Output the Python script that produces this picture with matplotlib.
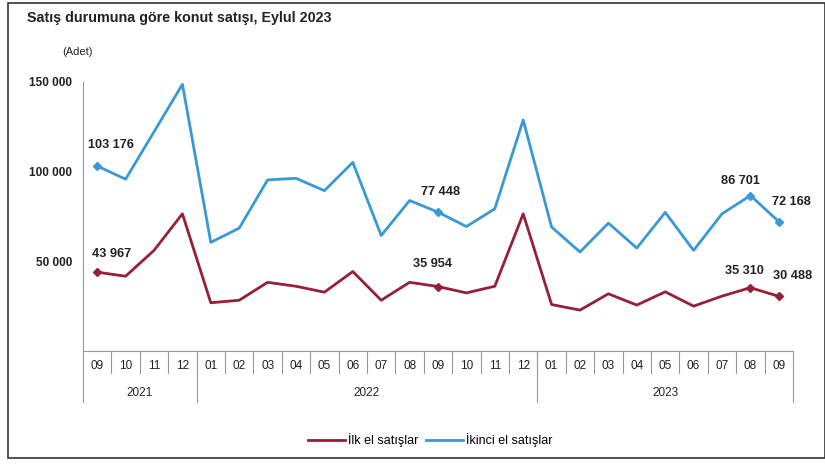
import matplotlib
matplotlib.use('Agg')
import matplotlib.pyplot as plt
from matplotlib.patches import Rectangle

plt.rcParams['font.family'] = ['Liberation Sans', 'DejaVu Sans']

# Veriler (adet)
aylar = ['09', '10', '11', '12',
         '01', '02', '03', '04', '05', '06', '07', '08', '09', '10', '11', '12',
         '01', '02', '03', '04', '05', '06', '07', '08', '09']
yillar = ['2021'] * 4 + ['2022'] * 12 + ['2023'] * 9
ilk_el = [43967, 41700, 56100, 76500,
          26900, 28300, 38300, 36100, 32800, 44300, 28300, 38300, 35954, 32400, 36100, 76500,
          25900, 22800, 31900, 25600, 33000, 25000, 30600, 35310, 30488]
ikinci_el = [103176, 95800, 122200, 148700,
             60600, 68500, 95400, 96300, 89400, 105200, 64400, 83900, 77448, 69400, 79300, 128800,
             69100, 55200, 71300, 57400, 77300, 56100, 76500, 86701, 72168]
etiketli = [0, 12, 23, 24]  # degeri yazilan aylar

kirmizi = '#96203a'
mavi = '#3a98d6'

fig = plt.figure(figsize=(8.25, 4.68), dpi=100)
ax = fig.add_axes([83 / 825, 1 - 351 / 468, 710 / 825, 269 / 468])

x = list(range(len(aylar)))
ax.plot(x, ilk_el, color=kirmizi, lw=2, label='İlk el satışlar', clip_on=False)
ax.plot(x, ikinci_el, color=mavi, lw=2, label='İkinci el satışlar', clip_on=False)

# isaretler ve deger etiketleri
def fmt(v):
    return f'{v:,}'.replace(',', ' ')

ofs_ilk = {0: (10, 9), 12: (-4, 12), 23: (-4, 8), 24: (10, 10)}
ofs_ikinci = {0: (10, 11), 12: (2, 10), 23: (-7, 6), 24: (9, 10)}
for i in etiketli:
    ax.plot(i, ilk_el[i], 'D', color=kirmizi, ms=4, clip_on=False)
    ax.plot(i, ikinci_el[i], 'D', color=mavi, ms=4, clip_on=False)
    ax.annotate(fmt(ilk_el[i]), (i, ilk_el[i]), xytext=ofs_ilk[i], textcoords='offset points',
                ha='center', va='bottom', fontsize=9.2, fontweight='bold', color='#222222')
    ax.annotate(fmt(ikinci_el[i]), (i, ikinci_el[i]), xytext=ofs_ikinci[i], textcoords='offset points',
                ha='center', va='bottom', fontsize=9.2, fontweight='bold', color='#222222')

ax.set_xlim(-0.5, len(aylar) - 0.5)
ax.set_ylim(0, 150000)
ax.set_yticks([50000, 100000, 150000])
ax.set_yticklabels([fmt(v) for v in [50000, 100000, 150000]], fontsize=8.5, fontweight='bold', color='#222222')
ax.tick_params(axis='y', length=0, pad=8)
ax.set_xticks([])
for s in ['top', 'right', 'bottom']:
    ax.spines[s].set_visible(False)
ax.spines['left'].set_color('#999999')

# alt tablo seklindeki eksen
tr = ax.get_xaxis_transform()
h_ay = 22 / 269
h_yil = 51 / 269
ax.plot([-0.5, len(aylar) - 0.5], [0, 0], color='#999999', lw=0.8, transform=tr, clip_on=False)
for i, ay in enumerate(aylar):
    ax.text(i, -15 / 269, ay, transform=tr, ha='center', va='center', fontsize=8.5, color='#222222')
for i in range(1, len(aylar)):
    ax.plot([i - 0.5, i - 0.5], [0, -h_ay], color='#999999', lw=0.8, transform=tr, clip_on=False)

sinirlar = [0] + [i for i in range(1, len(yillar)) if yillar[i] != yillar[i - 1]] + [len(yillar)]
for b in sinirlar:
    ax.plot([b - 0.5, b - 0.5], [0, -h_yil], color='#999999', lw=0.8, transform=tr, clip_on=False)
for a, b in zip(sinirlar[:-1], sinirlar[1:]):
    ax.text((a + b - 1) / 2, -42 / 269, yillar[a], transform=tr, ha='center', va='center',
            fontsize=8.5, color='#222222')

# baslik ve birim
fig.text(27 / 825, 1 - 18 / 468, 'Satış durumuna göre konut satışı, Eylul 2023', ha='left', va='center',
         fontsize=10.3, fontweight='bold', color='#222222')
fig.text(62 / 825, 1 - 52 / 468, '(Adet)', ha='left', va='center', fontsize=8, color='#222222')

fig.legend(loc='center', bbox_to_anchor=(430 / 825, 1 - 440 / 468), ncol=2, frameon=False,
           handlelength=3.0, columnspacing=0.6, handletextpad=0.2, fontsize=9)

# cerceve
fig.add_artist(Rectangle((8 / 825, 1 - 458 / 468), 1 - 8 / 825, 455 / 468, transform=fig.transFigure,
                         fill=False, edgecolor='#333333', lw=1.2))

fig.savefig('out.png', dpi=100)
